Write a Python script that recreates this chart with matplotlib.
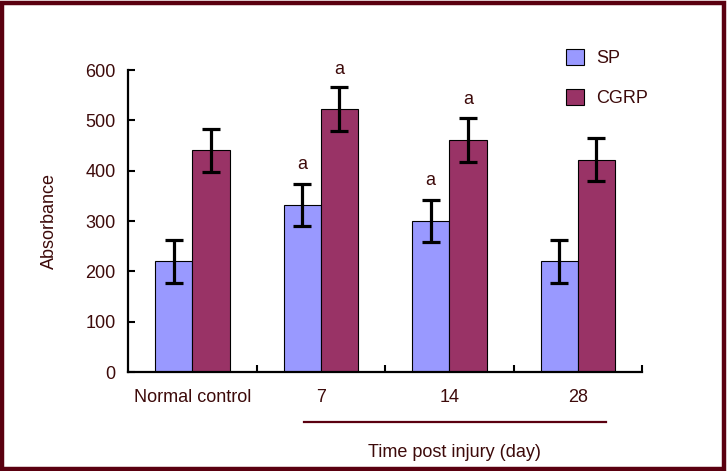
import numpy as np
import matplotlib.pyplot as plt
from matplotlib.patches import Rectangle, Patch

plt.rcParams['font.family'] = ['Liberation Sans', 'DejaVu Sans']

groups = ['Normal control', '7', '14', '28']
sp = [220, 332, 300, 220]
sp_err = [43, 42, 42, 42]
cgrp = [441, 523, 461, 422]
cgrp_err = [43, 43, 44, 43]
sp_mark = ['', 'a', 'a', '']
cgrp_mark = ['', 'a', 'a', '']

txt = '#3d0a0a'
frame = '#5a0010'

fig = plt.figure(figsize=(7.28, 4.71), dpi=100)
ax = fig.add_axes([0.176, 0.210, 0.706, 0.641])

x = np.arange(len(groups))
w = 0.29
err_kw = dict(ecolor='black', elinewidth=2.3, capsize=6.5, capthick=2.3)
ax.bar(x - w/2, sp, w, yerr=sp_err, color='#9999FF', edgecolor='black', linewidth=0.8,
       error_kw=err_kw, label='SP')
ax.bar(x + w/2, cgrp, w, yerr=cgrp_err, color='#993366', edgecolor='black', linewidth=0.8,
       error_kw=err_kw, label='CGRP')

for i in range(len(groups)):
    if sp_mark[i]:
        ax.text(x[i] - w/2, sp[i] + sp_err[i] + 38, sp_mark[i], ha='center', va='center',
                fontsize=13, color=txt)
    if cgrp_mark[i]:
        ax.text(x[i] + w/2, cgrp[i] + cgrp_err[i] + 36, cgrp_mark[i], ha='center', va='center',
                fontsize=13, color=txt)

ax.set_xlim(-0.5, 3.5)
ax.set_ylim(0, 600)
ax.set_yticks(np.arange(0, 601, 100))
ax.set_xticks(x)
ax.set_xticklabels(groups)
ax.set_xticks([0.5, 1.5, 2.5, 3.5], minor=True)
ax.tick_params(axis='x', which='major', length=0, pad=12, labelsize=13, labelcolor=txt)
ax.tick_params(axis='x', which='minor', direction='in', length=5, width=1.5)
ax.tick_params(axis='y', direction='in', length=5, width=1.5, pad=9, labelsize=13, labelcolor=txt)
for s in ['top', 'right']:
    ax.spines[s].set_visible(False)
for s in ['left', 'bottom']:
    ax.spines[s].set_linewidth(1.6)
ax.set_ylabel('Absorbance', fontsize=13, color=txt, labelpad=20)

# bracket line under the time groups
ax.plot([0.87, 3.22], [-0.166, -0.166], color=frame, lw=1.6,
        transform=ax.get_xaxis_transform(), clip_on=False)
ax.text(2.04, -0.265, 'Time post injury (day)', transform=ax.get_xaxis_transform(),
        ha='center', va='center', fontsize=13, color=txt)

handles = [Patch(facecolor='#9999FF', edgecolor='black', linewidth=0.8),
           Patch(facecolor='#993366', edgecolor='black', linewidth=0.8)]
leg = fig.legend(handles, ['SP', 'CGRP'], loc='upper left', bbox_to_anchor=(0.755, 0.93),
                 frameon=False, fontsize=13, handlelength=1.0, handleheight=1.0,
                 labelspacing=1.2, handletextpad=0.7)
for t in leg.get_texts():
    t.set_color(txt)

fig.patches.append(Rectangle((0.003, 0.004), 0.992, 0.99, transform=fig.transFigure,
                             fill=False, edgecolor=frame, linewidth=3.2))

fig.savefig('out.png', dpi=100)
